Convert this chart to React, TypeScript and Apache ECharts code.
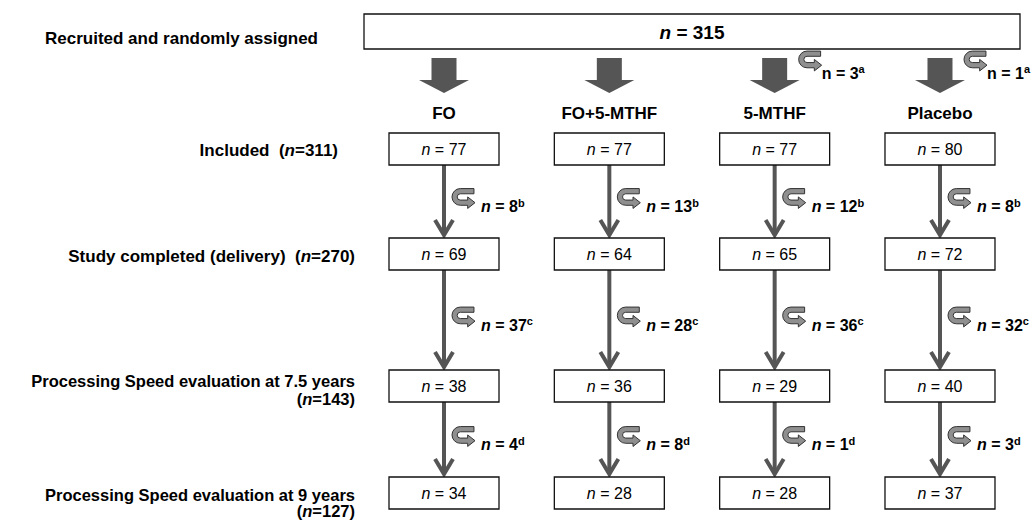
import React, { useEffect, useRef } from "react";
import * as echarts from "echarts";

// ---- data ----
const groups = ["FO", "FO+5-MTHF", "5-MTHF", "Placebo"];
const recruitedTotal = 315;
const excludedBeforeInclusion = [0, 0, 3, 1]; // a
const included = [77, 77, 77, 80];
const lostToDelivery = [8, 13, 12, 8]; // b
const completed = [69, 64, 65, 72];
const lostTo75 = [37, 28, 36, 32]; // c
const eval75 = [38, 36, 29, 40];
const lostTo9 = [4, 8, 1, 3]; // d
const eval9 = [34, 28, 28, 37];
const stageNames = [
  "Included",
  "Study completed (delivery)",
  "Processing Speed evaluation at 7.5 years",
  "Processing Speed evaluation at 9 years",
];
const stageTotals = [311, 270, 143, 127];
const lossMarks = ["b", "c", "d"];

// ---- layout (positions / styles, kept out of the data) ----
const FONT = '"Liberation Sans", Arial, sans-serif';
const W = 1035;
const H = 520;
const COL0 = 444;
const COL_STEP = 165.33;
const X_MIN = -COL0 / COL_STEP;
const X_MAX = X_MIN + W / COL_STEP;
const ROW_TOP = [133, 238, 370, 477];
const BOX_W = 110;
const BOX_H = 32;
const DARK = "#555555";
const ICON =
  "M22 1.5 L9 1.5 A8 8 0 0 0 9 17.5 L16 17.5 L16 20.5 L23 15 L16 9.5 L16 12.5 L9 12.5 A3 3 0 0 1 9 6.5 L22 6.5 Z";

function mkRich(size: number, supSize: number) {
  return {
    t: { fontFamily: FONT, fontSize: size, lineHeight: size + 3, fill: "#000" },
    i: { fontFamily: FONT, fontSize: size, lineHeight: size + 3, fontStyle: "italic", fill: "#000" },
    tb: { fontFamily: FONT, fontSize: size, lineHeight: size + 3, fontWeight: "bold", fill: "#000" },
    ib: { fontFamily: FONT, fontSize: size, lineHeight: size + 3, fontWeight: "bold", fontStyle: "italic", fill: "#000" },
    s: { fontFamily: FONT, fontSize: supSize, lineHeight: supSize, fontWeight: "bold", verticalAlign: "top", fill: "#000" },
  };
}
const richBox = mkRich(16, 11);
const richLabel = mkRich(17, 11);
const richLabelSmall = mkRich(16.5, 11);

function icon(x: number, y: number) {
  return {
    type: "path",
    shape: { pathData: ICON, x, y, width: 23, height: 20 },
    style: { fill: "#8f8f8f", stroke: "#333", lineWidth: 1 },
  };
}

function box(cx: number, top: number, value: number) {
  return [
    {
      type: "rect",
      shape: { x: cx - BOX_W / 2, y: top, width: BOX_W, height: BOX_H },
      style: { fill: "#fff", stroke: "#111", lineWidth: 1.3 },
    },
    {
      type: "text",
      style: {
        x: cx,
        y: top + BOX_H / 2,
        align: "center",
        verticalAlign: "middle",
        text: `{i|n}{t| = ${value}}`,
        rich: richBox,
      },
    },
  ];
}

function thinArrow(cx: number, y1: number, y2: number) {
  return [
    {
      type: "line",
      shape: { x1: cx, y1, x2: cx, y2: y2 - 3 },
      style: { stroke: DARK, lineWidth: 4 },
    },
    {
      type: "polyline",
      shape: { points: [[cx - 9, y2 - 18], [cx, y2 - 3], [cx + 9, y2 - 18]] },
      style: { stroke: DARK, lineWidth: 4, fill: null },
    },
  ];
}

function lossNote(cx: number, ty: number, value: number, mark: string) {
  return [
    icon(cx + 8, ty - 18),
    {
      type: "text",
      style: {
        x: cx + 37,
        y: ty,
        align: "left",
        verticalAlign: "middle",
        text: `{ib|n}{tb| = ${value}}{s|${mark}}`,
        rich: richBox,
      },
    },
  ];
}

function leftLabel(text: string, y: number, right: number, rich: any) {
  return {
    type: "text",
    x: right,
    y,
    style: {
      text,
      rich,
      align: "right",
      verticalAlign: "middle",
    },
  };
}

export default function App() {
  const ref = useRef<HTMLDivElement>(null);

  useEffect(() => {
    document.body.style.margin = "0";
    if (!ref.current) return;
    const chart = echarts.init(ref.current, undefined, { renderer: "svg" });

    const stageValues = [included, completed, eval75, eval9];
    const losses = [lostToDelivery, lostTo75, lostTo9];

    const renderItem = (params: any, api: any) => {
      const i = params.dataIndex;
      const cx = api.coord([i, 0])[0];
      const y = (v: number) => api.coord([i, v])[1];
      const children: any[] = [];
      children.push({
        type: "polygon",
        shape: {
          points: [
            [cx - 12.5, y(58)],
            [cx + 12.5, y(58)],
            [cx + 12.5, y(80)],
            [cx + 25, y(80)],
            [cx, y(93)],
            [cx - 25, y(80)],
            [cx - 12.5, y(80)],
          ],
        },
        style: { fill: DARK },
      });
      if (excludedBeforeInclusion[i] > 0) {
        children.push(icon(cx + 24, y(51)));
        children.push({
          type: "text",
          style: {
            x: cx + 47,
            y: y(73),
            align: "left",
            verticalAlign: "middle",
            text: `{tb|n = ${excludedBeforeInclusion[i]}}{s|a}`,
            rich: richBox,
          },
        });
      }
      children.push({
        type: "text",
        style: {
          x: cx,
          y: y(113),
          align: "center",
          verticalAlign: "middle",
          text: groups[i],
          fontFamily: FONT,
          fontSize: 17,
          fontWeight: "bold",
          fill: "#000",
        },
      });
      for (let r = 0; r < stageValues.length; r++) {
        if (r < stageValues.length - 1) {
          const b = y(ROW_TOP[r] + BOX_H);
          const t = y(ROW_TOP[r + 1]);
          children.push(...thinArrow(cx, b, t));
          children.push(...lossNote(cx, (b + t) / 2 + 5, losses[r][i], lossMarks[r]));
        }
        children.push(...box(cx, y(ROW_TOP[r]), stageValues[r][i]));
      }
      return { type: "group", children };
    };

    const graphics: any[] = [
      {
        type: "rect",
        shape: { x: 364, y: 14, width: 656, height: 35 },
        style: { fill: "#fff", stroke: "#111", lineWidth: 1.3 },
      },
      {
        type: "text",
        x: 692,
        y: 32,
        style: {
          text: `{i|n}{t| = ${recruitedTotal}}`,
          align: "center",
          verticalAlign: "middle",
          rich: {
            i: { fontFamily: FONT, fontSize: 19, fontWeight: "bold", fontStyle: "italic", fill: "#000" },
            t: { fontFamily: FONT, fontSize: 19, fontWeight: "bold", fill: "#000" },
          },
        },
      },
      leftLabel("{tb|Recruited and randomly assigned}", 38, 318, richLabel),
      leftLabel(`{tb|${stageNames[0]}  (}{ib|n}{tb|=${stageTotals[0]})}`, 150, 338, richLabel),
      leftLabel(`{tb|${stageNames[1]}  (}{ib|n}{tb|=${stageTotals[1]})}`, 256, 355, richLabel),
      leftLabel(`{tb|${stageNames[2]}}`, 381, 355, richLabelSmall),
      leftLabel(`{tb|(}{ib|n}{tb|=${stageTotals[2]})}`, 399, 355, richLabelSmall),
      leftLabel(`{tb|${stageNames[3]}}`, 495, 355, richLabelSmall),
      leftLabel(`{tb|(}{ib|n}{tb|=${stageTotals[3]})}`, 511, 355, richLabelSmall),
    ];

    chart.setOption({
      animation: false,
      grid: { left: 0, right: 0, top: 0, bottom: 0, containLabel: false },
      xAxis: { type: "value", min: X_MIN, max: X_MAX, show: false },
      yAxis: { type: "value", min: 0, max: H, inverse: true, show: false },
      series: [
        {
          type: "custom",
          renderItem,
          clip: false,
          silent: true,
          data: groups.map((_, i) => [i, 0]),
        },
      ],
      graphic: graphics,
    });

    return () => chart.dispose();
  }, []);

  return <div ref={ref} style={{ width: W, height: H }} />;
}
